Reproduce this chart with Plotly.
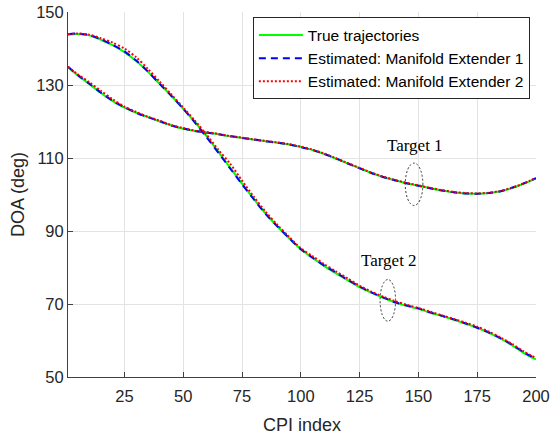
import plotly.graph_objects as go

# CPI index sample points
cpi = [1, 5, 10, 15, 20, 25, 30, 35, 40, 45, 50, 55, 60, 65, 70, 75, 80, 85, 90, 95, 100,
       105, 110, 115, 120, 125, 130, 135, 140, 145, 150, 155, 160, 165, 170, 175, 180, 185, 190, 195, 200]

# True trajectories (deg)
true_t1 = [134.9, 132.7, 130.3, 127.8, 125.6, 123.8, 122.4, 121.2, 120.0, 118.9, 118.0, 117.4, 117.0,
           116.5, 115.9, 115.5, 115.0, 114.6, 114.2, 113.7, 113.0, 112.2, 111.1, 109.8, 108.5, 107.2,
           105.9, 104.8, 103.9, 103.1, 102.4, 101.7, 101.1, 100.6, 100.3, 100.2, 100.4, 100.9, 101.8,
           103.0, 104.4]
true_t2 = [143.8, 144.0, 143.6, 142.4, 140.9, 139.0, 136.6, 133.6, 130.3, 127.0, 123.5, 119.8, 115.9,
           111.6, 107.3, 103.0, 98.8, 94.8, 91.3, 88.0, 85.0, 82.6, 80.4, 78.4, 76.5, 74.6, 73.1,
           71.7, 70.5, 69.5, 68.7, 67.6, 66.7, 65.7, 64.6, 63.5, 62.1, 60.5, 58.6, 56.5, 54.8]

# Estimated: Manifold Extender 1
est1_t1 = [135.0, 132.8, 130.4, 127.9, 125.7, 123.9, 122.4, 121.2, 120.1, 118.9, 118.1, 117.4, 117.0,
           116.5, 116.0, 115.5, 115.1, 114.6, 114.2, 113.7, 113.0, 112.2, 111.1, 109.9, 108.5, 107.2,
           105.9, 104.8, 103.9, 103.1, 102.4, 101.7, 101.1, 100.6, 100.3, 100.2, 100.4, 100.9, 101.9,
           103.1, 104.5]
est1_t2 = [143.9, 144.1, 143.7, 142.5, 141.0, 139.2, 136.7, 133.7, 130.3, 127.0, 123.5, 119.7, 115.6,
           111.4, 107.1, 102.8, 98.7, 94.7, 91.3, 88.1, 85.0, 82.7, 80.5, 78.6, 76.6, 74.8, 73.2,
           71.8, 70.5, 69.6, 68.8, 67.7, 66.8, 65.8, 64.7, 63.5, 62.2, 60.6, 58.8, 56.7, 55.0]

# Estimated: Manifold Extender 2
est2_t1 = [135.0, 133.0, 130.8, 128.4, 126.1, 124.1, 122.6, 121.3, 120.2, 119.0, 118.2, 117.5, 117.1,
           116.6, 116.0, 115.6, 115.1, 114.7, 114.3, 113.8, 113.1, 112.3, 111.2, 109.9, 108.6, 107.3,
           106.0, 104.9, 104.0, 103.2, 102.5, 101.8, 101.2, 100.7, 100.4, 100.3, 100.5, 101.0, 101.9,
           103.1, 104.5]
est2_t2 = [143.9, 144.1, 143.8, 142.8, 141.6, 140.0, 137.6, 134.4, 130.9, 127.4, 123.8, 120.2, 116.3,
           112.2, 108.4, 103.8, 99.4, 95.3, 91.7, 88.4, 85.3, 83.1, 80.9, 78.9, 77.0, 75.0, 73.4,
           72.0, 70.8, 69.8, 68.9, 67.9, 66.9, 65.9, 64.9, 63.8, 62.4, 60.8, 59.0, 56.9, 55.2]

x_ticks = [25, 50, 75, 100, 125, 150, 175, 200]
y_ticks = [50, 70, 90, 110, 130, 150]

FONT = "Liberation Sans, Arial, sans-serif"
SERIF = "Liberation Serif, Times New Roman, serif"
DARK = "#262626"

fig = go.Figure()

series = [
    ("True trajectories", true_t1, true_t2, dict(color="#00ff00", width=2, dash="solid")),
    ("Estimated: Manifold Extender 1", est1_t1, est1_t2, dict(color="#0000ff", width=2, dash="7px,5px")),
    ("Estimated: Manifold Extender 2", est2_t1, est2_t2, dict(color="#ff0000", width=2, dash="2px,2px")),
]
for name, t1, t2, ln in series:
    fig.add_trace(go.Scatter(x=cpi, y=t1, mode="lines", name=name,
                             line=dict(shape="spline", smoothing=0.8, **ln),
                             legendgroup=name, showlegend=True))
    fig.add_trace(go.Scatter(x=cpi, y=t2, mode="lines", name=name,
                             line=dict(shape="spline", smoothing=0.8, **ln),
                             legendgroup=name, showlegend=False))

# Target annotations
fig.add_annotation(x=148.5, y=113.5, text="Target 1", showarrow=False,
                   font=dict(family=SERIF, size=17, color="#000000"))
fig.add_annotation(x=137.5, y=82.0, text="Target 2", showarrow=False,
                   font=dict(family=SERIF, size=17, color="#000000"))
fig.add_shape(type="circle", xref="x", yref="y", x0=144.4, x1=151.9, y0=97.0, y1=108.6,
              line=dict(color="#333333", width=1, dash="2px,2px"))
fig.add_shape(type="circle", xref="x", yref="y", x0=133.7, x1=140.3, y0=65.3, y1=76.7,
              line=dict(color="#333333", width=1, dash="2px,2px"))

fig.update_layout(
    width=551, height=437,
    margin=dict(l=68, r=15, t=12, b=60),
    paper_bgcolor="white", plot_bgcolor="white",
    font=dict(family=FONT, size=16, color=DARK),
    showlegend=True,
    legend=dict(x=0.395, y=0.985, xanchor="left", yanchor="top",
                bgcolor="white", bordercolor=DARK, borderwidth=1,
                font=dict(family=FONT, size=15.5, color="#000000"),
                tracegroupgap=0, itemwidth=44),
)
fig.update_xaxes(range=[1, 200], tickvals=x_ticks, ticktext=[str(v) for v in x_ticks],
                 automargin=False,
                 showgrid=True, gridcolor="#e3e3e3", gridwidth=1,
                 showline=True, linecolor="#404040", linewidth=1,
                 ticks="inside", ticklen=5, tickcolor="#404040", ticklabelstandoff=4,
                 tickfont=dict(family=FONT, size=16.5, color=DARK),
                 title=dict(text="CPI index", font=dict(family=FONT, size=18, color=DARK), standoff=14),
                 zeroline=False)
fig.update_yaxes(range=[50, 150], tickvals=y_ticks, ticktext=[str(v) for v in y_ticks],
                 automargin=False,
                 showgrid=True, gridcolor="#e3e3e3", gridwidth=1,
                 showline=True, linecolor="#404040", linewidth=1,
                 ticks="inside", ticklen=5, tickcolor="#404040",
                 tickfont=dict(family=FONT, size=16.5, color=DARK),
                 title=dict(text="DOA (deg)", font=dict(family=FONT, size=18, color=DARK), standoff=6),
                 zeroline=False)

fig.write_html("out.html")
